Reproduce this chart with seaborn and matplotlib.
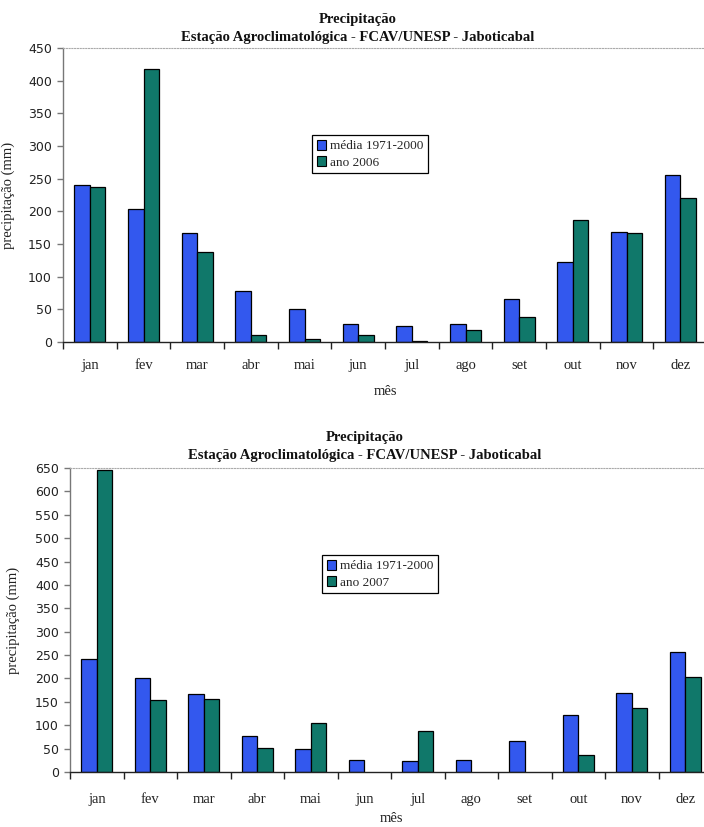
import numpy as np
import pandas as pd
import matplotlib
matplotlib.use("Agg")
import matplotlib.pyplot as plt
import seaborn as sns

# Monthly precipitation (mm), Jaboticabal station
meses = ["jan", "fev", "mar", "abr", "mai", "jun", "jul", "ago", "set", "out", "nov", "dez"]
media_1971_2000 = [240, 203, 167, 78, 50, 27, 25, 27, 66, 123, 169, 256]
ano_2006 = [237, 418, 137, 10, 5, 10, 2, 19, 38, 186, 167, 221]
media_1971_2000_b = [241, 201, 166, 76, 49, 26, 23, 26, 67, 122, 169, 256]
ano_2007 = [645, 154, 157, 52, 104, 0, 87, 0, 0, 37, 136, 203]

serie_media = "média 1971-2000"
titulo1 = "Precipitação"
titulo2 = "Estação Agroclimatológica - FCAV/UNESP - Jaboticabal"

AZUL = "#3358EE"
VERDE = "#10786A"

sns.set_theme(style="white")
plt.rcParams["font.family"] = ["Liberation Serif", "DejaVu Serif"]

fig = plt.figure(figsize=(7.04, 8.27), dpi=100)


def painel(rect, media, ano, rotulo_ano, ymax, title_xy, leg_xy, lab_x, lab_y, xpad):
    ax = fig.add_axes(rect)
    df = pd.DataFrame({
        "mês": meses * 2,
        "precipitação": list(media) + list(ano),
        "série": [serie_media] * 12 + [rotulo_ano] * 12,
    })
    sns.barplot(data=df, x="mês", y="precipitação", hue="série",
                palette=[AZUL, VERDE], saturation=1, edgecolor="black",
                linewidth=0.9, width=0.58, gap=0, dodge=True, ax=ax,
                legend=True)
    # empty months get no outline
    for bar in ax.patches:
        if bar.get_height() == 0:
            bar.set_linewidth(0)
    ax.set_xlim(-0.5, 11.5)
    ax.set_ylim(0, ymax)
    ax.set_yticks(np.arange(0, ymax + 1, 50))
    ax.set_facecolor("white")

    # spines in spreadsheet style
    ax.spines["right"].set_visible(False)
    ax.spines["top"].set_linestyle((0, (1, 1.5)))
    ax.spines["top"].set_color("#aaaaaa")
    ax.spines["top"].set_linewidth(0.8)
    ax.spines["left"].set_color("#777777")
    ax.spines["left"].set_linewidth(1.0)
    ax.spines["bottom"].set_color("#222222")
    ax.spines["bottom"].set_linewidth(1.0)

    # category tick marks between the month groups
    ax.set_xticks(np.arange(-0.5, 12, 1), minor=True)
    ax.tick_params(axis="x", which="minor", length=5, width=1, color="#222222",
                   direction="out", bottom=True)
    ax.tick_params(axis="x", which="major", length=0, pad=xpad, labelsize=10.5,
                   labelcolor="#222222")
    ax.tick_params(axis="y", which="major", length=4, width=1, color="#777777",
                   direction="out", left=True, pad=4, labelcolor="#222222")
    for lab in ax.get_yticklabels():
        lab.set_fontfamily("DejaVu Sans")
        lab.set_fontsize(9)

    ax.set_ylabel("precipitação (mm)", fontsize=10.5, color="#222222")
    ax.yaxis.set_label_coords(lab_x, 0.5)
    ax.set_xlabel("mês", fontsize=10.5, color="#222222")
    ax.xaxis.set_label_coords(0.5, lab_y)

    handles, labels = ax.get_legend_handles_labels()
    leg = ax.legend(handles, labels, loc="upper left",
                    bbox_to_anchor=leg_xy, bbox_transform=fig.transFigure,
                    borderaxespad=0, fancybox=False, framealpha=1,
                    edgecolor="black", fontsize=9.5, handlelength=0.7,
                    handleheight=0.8, handletextpad=0.3, labelspacing=0.3,
                    borderpad=0.35)
    leg.get_frame().set_linewidth(0.9)
    for h in leg.legend_handles:
        h.set_edgecolor("black")
        h.set_linewidth(0.8)

    fig.text(title_xy[0], title_xy[1], titulo1, ha="center", va="center",
             fontsize=10.5, fontweight="bold", color="#111111")
    fig.text(title_xy[0], title_xy[1] - 0.021, titulo2, ha="center",
             va="center", fontsize=10.5, fontweight="bold", color="#111111")
    return ax


painel([63 / 704, 1 - 342 / 827, 644 / 704, 294 / 827],
       media_1971_2000, ano_2006, "ano 2006", 450,
       (358 / 704, 1 - 20 / 827), (312 / 704, 1 - 135 / 827),
       -0.0745, -0.145, 12)

painel([70 / 704, 1 - 772 / 827, 642 / 704, 304 / 827],
       media_1971_2000_b, ano_2007, "ano 2007", 650,
       (365 / 704, 1 - 438 / 827), (322 / 704, 1 - 555 / 827),
       -0.078, -0.13, 15)

fig.savefig("out.png", dpi=100, facecolor="white")
